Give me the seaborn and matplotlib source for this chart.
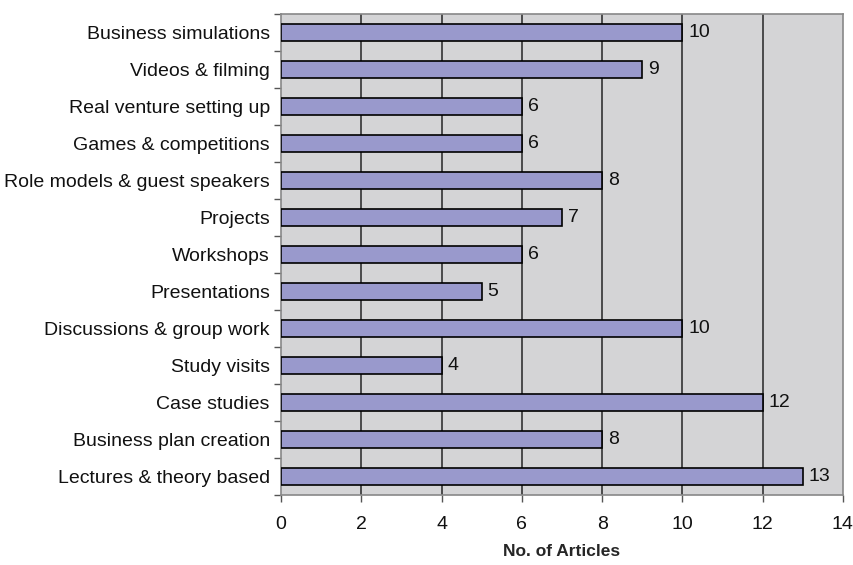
import matplotlib
matplotlib.use("Agg")
import matplotlib.pyplot as plt
import seaborn as sns
import pandas as pd
import numpy as np

methods = [
    "Business simulations",
    "Videos & filming",
    "Real venture setting up",
    "Games & competitions",
    "Role models & guest speakers",
    "Projects",
    "Workshops",
    "Presentations",
    "Discussions & group work",
    "Study visits",
    "Case studies",
    "Business plan creation",
    "Lectures & theory based",
]
articles = [10, 9, 6, 6, 8, 7, 6, 5, 10, 4, 12, 8, 13]

df = pd.DataFrame({"method": methods, "articles": articles})

sns.set_style("white")
plt.rcParams["font.family"] = ["Liberation Sans", "DejaVu Sans"]

fig = plt.figure(figsize=(8.54, 5.65), dpi=100)
ax = fig.add_axes([0.329, 0.124, 0.658, 0.851])
ax.set_facecolor("#D4D4D6")

sns.barplot(data=df, x="articles", y="method", orient="h", color="#9999CC",
            edgecolor="black", linewidth=1.2, width=0.45, saturation=1, ax=ax, zorder=3)

ax.set_xlim(0, 14)
ax.set_xticks(range(0, 15, 2))
for x in range(2, 14, 2):
    ax.axvline(x, color="#333333", linewidth=1.2, zorder=1)

n = len(methods)
ax.set_ylim(n - 0.5, -0.5)
ax.set_yticks(np.arange(-0.5, n, 1.0))
ax.set_yticklabels([])
ax.set_yticks(np.arange(n), minor=True)
ax.set_yticklabels(methods, minor=True)
ax.tick_params(axis="y", which="minor", length=0, pad=8, labelsize=14, labelcolor="#111111")
ax.tick_params(axis="y", which="major", length=5, width=1, color="#555555", direction="out", left=True)
ax.tick_params(axis="x", length=5, width=1, color="#555555", direction="out", bottom=True,
               labelsize=14, pad=10, labelcolor="#111111")

for i, v in enumerate(articles):
    ax.text(v + 0.15, i, str(v), va="center", ha="left", fontsize=14, color="#111111")

for s in ax.spines.values():
    s.set_color("#888888")
    s.set_linewidth(1.2)

ax.set_ylabel("")
ax.set_xlabel("No. of Articles", fontsize=12.5, fontweight="bold", labelpad=8)

fig.savefig("out.png", dpi=100)
